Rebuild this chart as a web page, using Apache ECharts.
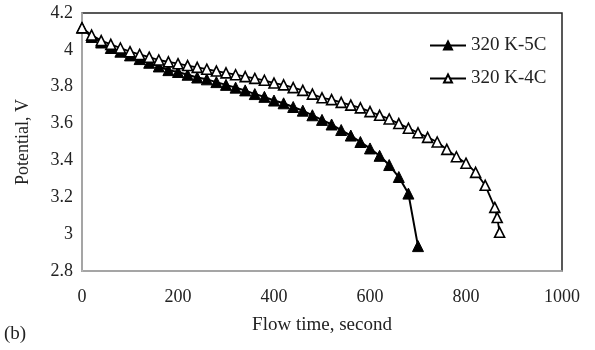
<!DOCTYPE html>
<html>
<head>
<meta charset="utf-8">
<script src="https://cdn.jsdelivr.net/npm/echarts@6/dist/echarts.min.js"></script>
<style>
html,body{margin:0;padding:0;background:#fff;}
#chart{width:595px;height:350px;}
</style>
</head>
<body>
<div id="chart"></div>
<script>
// Flow time (s) and potential (V)
var time5C = [0,20,40,60,80,100,120,140,160,180,200,220,240,260,280,300,320,340,360,380,400,420,440,460,480,500,520,540,560,580,600,620,640,660,680,700];
var volt5C = [4.12,4.07,4.04,4.01,3.99,3.97,3.95,3.93,3.91,3.89,3.88,3.865,3.85,3.84,3.825,3.81,3.795,3.78,3.76,3.745,3.725,3.71,3.69,3.67,3.645,3.62,3.595,3.565,3.535,3.50,3.465,3.425,3.375,3.31,3.22,2.935];
var time4C = [0,20,40,60,80,100,120,140,160,180,200,220,240,260,280,300,320,340,360,380,400,420,440,460,480,500,520,540,560,580,600,620,640,660,680,700,720,740,760,780,800,820,840,860,865,870];
var volt4C = [4.12,4.08,4.05,4.03,4.01,3.99,3.975,3.96,3.945,3.935,3.925,3.915,3.905,3.895,3.885,3.875,3.865,3.855,3.845,3.835,3.82,3.81,3.795,3.78,3.76,3.74,3.73,3.715,3.70,3.685,3.665,3.645,3.625,3.60,3.575,3.55,3.525,3.50,3.46,3.42,3.385,3.335,3.265,3.145,3.09,3.01];
var seriesNames = ['320 K-5C','320 K-4C'];
var xTitle = 'Flow time, second';
var yTitle = 'Potential, V';
var panelLabel = '(b)';

function pairs(t, v){ return t.map(function(x,i){ return [x, v[i]]; }); }

var font = '"Liberation Serif", "Times New Roman", serif';
var chart = echarts.init(document.getElementById('chart'), null, {renderer:'canvas'});
chart.setOption({
  animation:false,
  backgroundColor:'#fff',
  grid:{left:82,right:33,top:13,bottom:79,show:true,borderColor:'#222',borderWidth:1.5,containLabel:false},
  legend:{
    orient:'vertical', left:424, top:31, itemGap:14, itemWidth:36, itemHeight:10,
    textStyle:{fontFamily:font,fontSize:19,color:'#222'},
    data:seriesNames
  },
  graphic:[{type:'text',left:4,top:325,style:{text:panelLabel,font:'19px '+font,fill:'#222'}}],
  xAxis:{
    type:'value',min:0,max:1000,interval:200,
    name:xTitle,nameLocation:'middle',nameGap:45,
    nameTextStyle:{fontFamily:font,fontSize:19,color:'#222'},
    axisLine:{show:true,lineStyle:{color:'#bfbfbf',width:1.5}},
    axisTick:{show:false},
    splitLine:{show:false},
    axisLabel:{fontFamily:font,fontSize:18,color:'#222',margin:17,
      formatter:function(v){ return String(v); }}
  },
  yAxis:{
    type:'value',min:2.8,max:4.2,interval:0.2,
    name:yTitle,nameLocation:'middle',nameGap:50,nameRotate:90,
    nameTextStyle:{fontFamily:font,fontSize:18,color:'#222'},
    axisLine:{show:true,lineStyle:{color:'#bfbfbf',width:1.5}},
    axisTick:{show:false},
    splitLine:{show:false},
    axisLabel:{fontFamily:font,fontSize:18,color:'#222',margin:9,
      formatter:function(v){ return String(Math.round(v*10)/10); }}
  },
  series:[
    {name:seriesNames[0],type:'line',data:pairs(time5C,volt5C),
     symbol:'triangle',symbolSize:11,showAllSymbol:true,
     lineStyle:{color:'#000',width:2},
     itemStyle:{color:'#000',borderColor:'#000',borderWidth:1}},
    {name:seriesNames[1],type:'line',data:pairs(time4C,volt4C),
     symbol:'triangle',symbolSize:10,showAllSymbol:true,
     lineStyle:{color:'#000',width:1.8},
     itemStyle:{color:'#fff',borderColor:'#000',borderWidth:1.6}}
  ]
});
</script>
</body>
</html>
